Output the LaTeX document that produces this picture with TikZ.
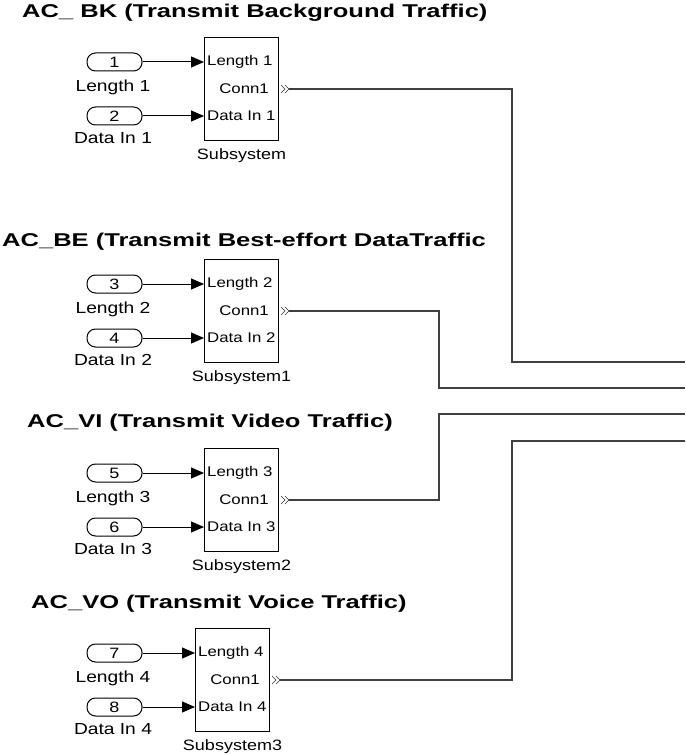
\documentclass[tikz,border=0pt]{standalone}
\usepackage{fontspec}
\setmainfont{Liberation Sans}
\newfontfamily\titlefont[FakeStretch=1.38]{Liberation Sans Bold}
\newfontfamily\labfont[FakeStretch=1.2]{Liberation Sans}
\usetikzlibrary{arrows.meta}
\tikzset{
  ttl/.style={font=\titlefont\fontsize{18.5}{20}\selectfont, inner sep=0pt, anchor=west},
  port/.style={draw, line width=1pt, rounded corners=8.5pt, minimum width=55pt, minimum height=18pt, inner sep=0pt, font=\labfont\fontsize{15}{16}\selectfont},
  portlab/.style={font=\labfont\fontsize{16}{18}\selectfont, inner sep=0pt},
  blk/.style={draw, line width=1pt, minimum width=74pt, minimum height=103pt, inner sep=0pt},
  inlab/.style={font=\labfont\fontsize{14}{16}\selectfont, inner sep=0pt},
  sublab/.style={font=\labfont\fontsize{15}{17}\selectfont, inner sep=0pt},
  sig/.style={line width=1pt, -{Triangle[length=13pt,width=11pt]}},
  bus/.style={line width=1.4pt, draw=black!75},
  chev/.style={line width=0.6pt, draw=black!80}
}
\newcommand{\grp}[6]{%
% #1 id, #2 block left x, #3 block top y, #4 index, #5 port A number, #6 subsystem name
  \node[blk, anchor=north west] (b#1) at (#2,#3) {};
  \node[port] (pa#1) at (114.5,#3+25) {#5};
  \pgfmathtruncatemacro{\pb}{#5+1}
  \node[port] (pb#1) at (114.5,#3+79) {\pb};
  \node[portlab] (la#1) at (113,#3+50) {Length #4};
  \node[portlab] (lb#1) at (113,#3+101) {Data In #4};
  \draw[sig] (pa#1.east) -- (pa#1.east -| b#1.west);
  \draw[sig] (pb#1.east) -- (pb#1.east -| b#1.west);
  \node[inlab, anchor=west] (ia#1) at ([xshift=3pt]pa#1.east -| b#1.west) {Length #4};
  \node[inlab, anchor=west] (ib#1) at ([xshift=3pt]pb#1.east -| b#1.west) {Data In #4};
  \node[inlab, anchor=east] (ic#1) at ([xshift=-10pt]b#1.east) {Conn1};
  \node[sublab] (s#1) at ([yshift=-15pt]b#1.south) {#6};
  \coordinate (c#1) at ([xshift=1pt]b#1.east);
  \draw[chev] ([xshift=1pt,yshift=-4pt]c#1) -- ([xshift=5pt]c#1) -- ([xshift=1pt,yshift=4pt]c#1);
  \draw[chev] ([xshift=5pt,yshift=-4pt]c#1) -- ([xshift=9pt]c#1) -- ([xshift=5pt,yshift=4pt]c#1);
  \coordinate (o#1) at ([xshift=9pt]c#1);
}
\begin{document}
\begin{tikzpicture}[x=1pt,y=-1pt]
\useasboundingbox (0,0) rectangle (685,754);
\fill[white] (0,0) rectangle (685,754);

\node[ttl] (t1) at (22,13) {AC\_ BK (Transmit Background Traffic)};
\node[ttl] (t2) at (2,242) {AC\_BE (Transmit Best-effort DataTraffic};
\node[ttl] (t3) at (27,423) {AC\_VI (Transmit Video Traffic)};
\node[ttl] (t4) at (31,604) {AC\_VO (Transmit Voice Traffic)};

\grp{1}{204}{37}{1}{1}{Subsystem}
\grp{2}{204}{259}{2}{3}{Subsystem1}
\grp{3}{204}{448}{3}{5}{Subsystem2}
\grp{4}{195}{628}{4}{7}{Subsystem3}

\coordinate (e1) at (685,362);
\coordinate (e2) at (685,388);
\coordinate (e3) at (685,414);
\coordinate (e4) at (685,441);

\draw[bus] (o1) -- (512,88 |- o1) |- (e1);
\draw[bus] (o2) -- (439,312 |- o2) |- (e2);
\draw[bus] (o3) -- (439,500 |- o3) |- (e3);
\draw[bus] (o4) -- (512,680 |- o4) |- (e4);
\end{tikzpicture}
\end{document}
